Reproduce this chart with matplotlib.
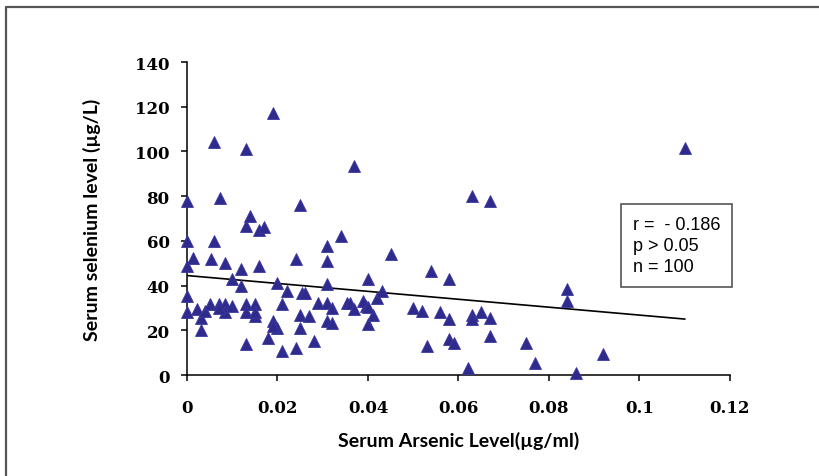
import numpy as np
import matplotlib
matplotlib.use("Agg")
import matplotlib.pyplot as plt
from matplotlib.lines import Line2D

# serum arsenic (ug/ml) and serum selenium (ug/L)
arsenic = [0.0, 0.0, 0.0014, 0.0, 0.0, 0.0, 0.0023, 0.003, 0.003, 0.004,
           0.006, 0.0054, 0.006, 0.0072, 0.005, 0.007, 0.0083, 0.0083, 0.0083, 0.010,
           0.010, 0.012, 0.012, 0.013, 0.013, 0.014, 0.013, 0.013, 0.013, 0.015,
           0.015, 0.016, 0.017, 0.016, 0.019, 0.018, 0.019, 0.020, 0.020, 0.021,
           0.021, 0.022, 0.024, 0.024, 0.025, 0.025, 0.025, 0.0254, 0.026, 0.027,
           0.028, 0.029, 0.031, 0.031, 0.031, 0.031, 0.031, 0.032, 0.032, 0.034,
           0.0354, 0.036, 0.037, 0.037, 0.0395, 0.040, 0.040, 0.041, 0.042, 0.043,
           0.045, 0.050, 0.052, 0.053, 0.054, 0.056, 0.058, 0.058, 0.058, 0.059,
           0.062, 0.063, 0.063, 0.063, 0.065, 0.067, 0.067, 0.067, 0.075, 0.077,
           0.084, 0.084, 0.086, 0.092, 0.110, 0.015, 0.039, 0.007, 0.019, 0.040]
selenium = [78, 60, 52.5, 48.8, 35.3, 28, 29.4, 20, 25.6, 28.6,
            104, 51.7, 60, 79.3, 31.6, 31.6, 50.2, 31.6, 28, 30.9,
            42.8, 47.3, 39.8, 101, 66.6, 71, 31.6, 28, 13.7, 31.6,
            26.4, 65, 66, 48.8, 117, 16.7, 24, 21, 41, 10.7,
            31.6, 37.6, 51.7, 12.2, 76, 27, 21, 36.8, 36.8, 26.4,
            15, 32.3, 57.7, 51, 40.5, 32.3, 24, 23.4, 30, 62,
            32.3, 32.3, 93.4, 29.4, 30.9, 42.8, 22.6, 27, 34.6, 37.6,
            54, 30, 28.6, 13, 46.5, 28, 42.8, 25, 16, 14.5,
            3.3, 80, 27, 25, 28, 78, 25.6, 17.4, 14.5, 5.5,
            38.3, 33, 1, 9.2, 101.7, 28, 33.2, 30, 22, 30.4]

# linear trend line (slope, intercept) as drawn in the figure
trend_coef = [-177, 44.5]
stats_text = "r =  - 0.186\np > 0.05\nn = 100"

x_ticks = [0, 0.02, 0.04, 0.06, 0.08, 0.1, 0.12]
x_tick_labels = ["0", "0.02", "0.04", "0.06", "0.08", "0.1", "0.12"]
y_ticks = [0, 20, 40, 60, 80, 100, 120, 140]

fig = plt.figure(figsize=(8.19, 4.77), dpi=100)
ax = fig.add_axes([0.2283, 0.2117, 0.663, 0.6562])

ax.plot(arsenic, selenium, linestyle="none", marker="^", markersize=9,
        color="#2f2b8c", markeredgecolor="#3b38a0", markeredgewidth=0.6,
        clip_on=False, zorder=3)

trend_x = np.array([0, max(arsenic)])
ax.plot(trend_x, np.polyval(trend_coef, trend_x), color="black", linewidth=1.2, zorder=2)

ax.set_xlim(0, 0.12)
ax.set_ylim(0, 140)
ax.set_xticks(x_ticks)
ax.set_xticklabels(x_tick_labels)
ax.set_yticks(y_ticks)

for side in ["top", "right"]:
    ax.spines[side].set_visible(False)
for side in ["left", "bottom"]:
    ax.spines[side].set_linewidth(1.1)

tick_font = {"family": "DejaVu Serif", "weight": "bold", "size": 12}
ax.tick_params(axis="both", direction="out", length=4.5, width=1.1)
ax.tick_params(axis="x", pad=13)
ax.tick_params(axis="y", pad=8)
for lbl in ax.get_xticklabels() + ax.get_yticklabels():
    lbl.set_fontproperties(tick_font)

ax.set_xlabel("Serum Arsenic Level(µg/ml)", family="Lato", weight="bold", fontsize=14)
ax.set_ylabel("Serum selenium level (µg/L)", family="Lato", weight="bold", fontsize=14)
ax.xaxis.set_label_coords(0.5, -0.178)
ax.yaxis.set_label_coords(-0.158, 0.5)

fig.text(0.773, 0.483, stats_text, family="Liberation Sans", fontsize=13,
         linespacing=1.3, va="center", ha="left",
         bbox=dict(boxstyle="square,pad=0.65", facecolor="white",
                   edgecolor="#555555", linewidth=1.2))

# outer frame of the figure panel (top and left edges)
fig.add_artist(Line2D([6 / 819, 6 / 819, 1.0], [0.0, 1 - 8 / 477, 1 - 8 / 477],
                      transform=fig.transFigure, color="#555555", linewidth=1.6))

fig.savefig("out.png", dpi=100)
